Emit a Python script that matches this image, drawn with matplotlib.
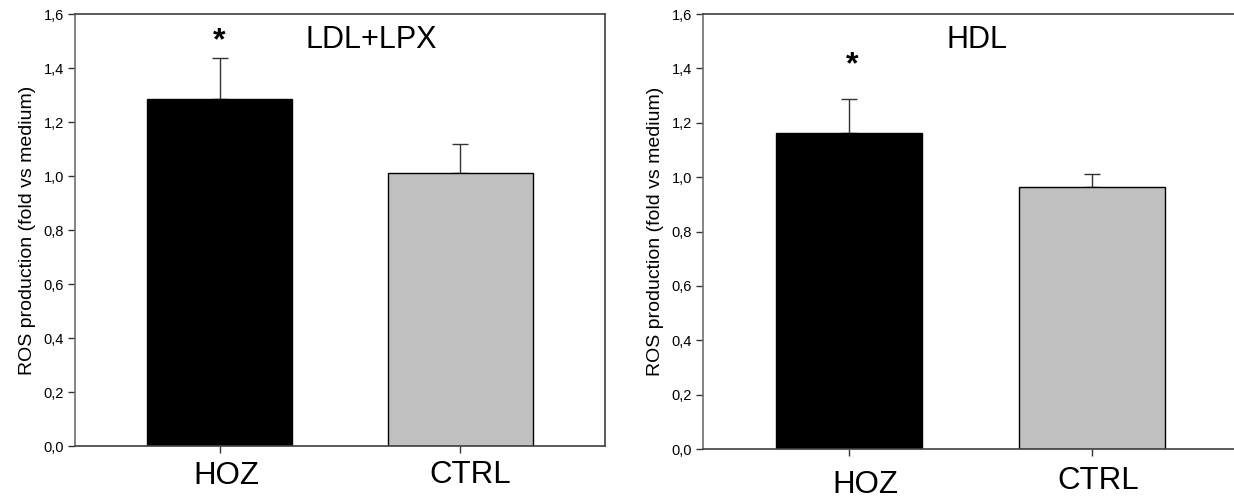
import numpy as np
import matplotlib.pyplot as plt

plt.rcParams['font.family'] = ['Liberation Sans', 'DejaVu Sans']

# --- data
groups = ['HOZ', 'CTRL']
ldl_mean = [1.286, 1.012]
ldl_err = [0.150, 0.107]
hdl_mean = [1.163, 0.964]
hdl_err = [0.126, 0.049]
panel_titles = ['LDL+LPX', 'HDL']
yticks = [0.0, 0.2, 0.4, 0.6, 0.8, 1.0, 1.2, 1.4, 1.6]
ytick_labels = ['0,0', '0,2', '0,4', '0,6', '0,8', '1,0', '1,2', '1,4', '1,6']
bar_colors = ['black', '#c0c0c0']

fig = plt.figure(figsize=(12.34, 4.99), dpi=100)
ax1 = fig.add_axes([0.0608, 0.1062, 0.4295, 0.8657])
ax2 = fig.add_axes([0.5697, 0.1002, 0.4335, 0.8717])

x = np.arange(len(groups))


def draw_panel(ax, means, errs, title, title_x, star_xy, lab_off):
	ax.bar(x, means, width=0.6, color=bar_colors, edgecolor='black', linewidth=1.0, zorder=2)
	ax.errorbar(x, means, yerr=[np.zeros(len(errs)), errs], fmt='none', ecolor='#333333',
				elinewidth=1.0, capsize=5.5, capthick=1.0, zorder=1)
	ax.set_xlim(-0.6, 1.6)
	ax.set_ylim(0, 1.6)
	ax.set_yticks(yticks)
	ax.set_yticklabels(ytick_labels, fontsize=10.5)
	ax.set_xticks(x)
	ax.set_xticklabels([])
	ax.tick_params(axis='both', direction='out', length=5, width=1.0, color='#333333', pad=3)
	for s in ax.spines.values():
		s.set_color('#404040')
		s.set_linewidth(1.2)
	ax.spines['left'].set_color('#707070')
	ax.set_ylabel('ROS production (fold vs medium)', fontsize=14, labelpad=5)
	# group names under the bars
	for i, name in enumerate(groups):
		ax.text(x[i] + lab_off[i][0], lab_off[i][1], name, transform=ax.get_xaxis_transform(),
				ha='center', va='center', fontsize=22.5, clip_on=False)
	ax.text(title_x, 1.504, title, ha='center', va='center', fontsize=22)
	ax.text(star_xy[0], star_xy[1], '*', ha='center', va='center', fontsize=23, fontweight='bold')


draw_panel(ax1, ldl_mean, ldl_err, panel_titles[0], 0.63, (0.0, 1.50),
		   [(0.03, -0.069), (0.04, -0.067)])
draw_panel(ax2, hdl_mean, hdl_err, panel_titles[1], 0.527, (0.015, 1.41),
		   [(0.066, -0.083), (0.025, -0.074)])

plt.savefig('out.png', dpi=100)
